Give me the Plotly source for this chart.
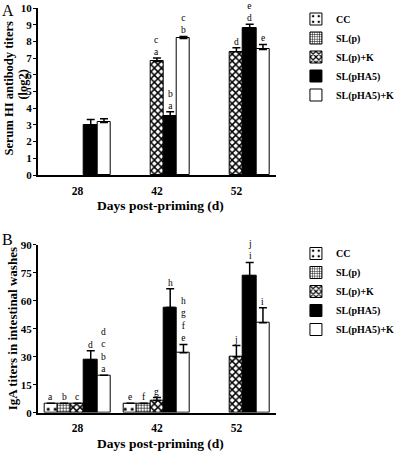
import plotly.graph_objects as go

# ---------------- data ----------------
days = ["28", "42", "52"]
series = ["CC", "SL(p)", "SL(p)+K", "SL(pHA5)", "SL(pHA5)+K"]

# Panel A: Serum HI antibody titers (log2)
A_CC = [None, None, None]
A_SLp = [None, None, None]
A_SLpK = [None, 6.8, 7.38]
A_pHA5 = [3.0, 3.55, 8.82]
A_pHA5K = [3.15, 8.18, 7.52]
A_CC_err = [None, None, None]
A_SLp_err = [None, None, None]
A_SLpK_err = [None, 0.2, 0.24]
A_pHA5_err = [0.32, 0.24, 0.2]
A_pHA5K_err = [0.22, 0.12, 0.3]
A_CC_let = ["", "", ""]
A_SLp_let = ["", "", ""]
A_SLpK_let = ["", "ca", "d"]
A_pHA5_let = ["", "ba", "ed"]
A_pHA5K_let = ["", "cb", "e"]

# Panel B: IgA titers in intestinal washes
B_CC = [5, 5, None]
B_SLp = [5, 5, None]
B_SLpK = [5, 6.5, 30]
B_pHA5 = [28.2, 56.4, 73.2]
B_pHA5K = [20, 32.1, 48.2]
B_CC_err = [None, None, None]
B_SLp_err = [None, None, None]
B_SLpK_err = [None, 1.6, 6]
B_pHA5_err = [5, 10, 7.3]
B_pHA5K_err = [None, 4.5, 8]
B_CC_let = ["a", "e", ""]
B_SLp_let = ["b", "f", ""]
B_SLpK_let = ["c", "g", "j"]
B_pHA5_let = ["d", "h", "ji"]
B_pHA5K_let = ["dcba", "hgfe", "i"]

A_vals = [A_CC, A_SLp, A_SLpK, A_pHA5, A_pHA5K]
A_errs = [A_CC_err, A_SLp_err, A_SLpK_err, A_pHA5_err, A_pHA5K_err]
A_lets = [A_CC_let, A_SLp_let, A_SLpK_let, A_pHA5_let, A_pHA5K_let]
B_vals = [B_CC, B_SLp, B_SLpK, B_pHA5, B_pHA5K]
B_errs = [B_CC_err, B_SLp_err, B_SLpK_err, B_pHA5_err, B_pHA5K_err]
B_lets = [B_CC_let, B_SLp_let, B_SLpK_let, B_pHA5_let, B_pHA5K_let]

# ---------------- styles ----------------
SERIF = "Liberation Serif"
styles = [
    dict(color="white", pattern=dict(shape=".", size=7, solidity=0.15, fgcolor="black", bgcolor="white", fillmode="replace")),
    dict(color="white", pattern=dict(shape="+", size=3, solidity=0.35, fgcolor="black", bgcolor="white", fillmode="replace")),
    dict(color="white", pattern=dict(shape="x", size=5, solidity=0.5, fgcolor="black", bgcolor="white", fillmode="replace")),
    dict(color="black"),
    dict(color="white"),
]
W = 0.167  # bar width in category units
xpos = list(range(len(days)))
H = 452.0

fig = go.Figure()
annotations = []

def add_panel(vals, errs, lets, xa, ya, legend):
    for i, name in enumerate(series):
        off = (i - 2.5) * W
        fig.add_trace(go.Bar(
            x=xpos, y=vals[i], name=name, width=W, offset=off,
            marker=dict(**styles[i], line=dict(color="black", width=1)),
            error_y=dict(type="data", array=errs[i],
                         arrayminus=[0 if e is not None else None for e in errs[i]], symmetric=False,
                         color="black", thickness=1.5, width=4),
            xaxis=xa, yaxis=ya, legend=legend, showlegend=True,
        ))
        for j in range(len(days)):
            s = lets[i][j]
            if not s or vals[i][j] is None:
                continue
            top = vals[i][j] + (errs[i][j] or 0)
            annotations.append(dict(
                x=xpos[j] + (i - 2) * W, y=top, xref=xa.replace("axis", ""), yref=ya.replace("axis", ""),
                text="<br>".join(s), showarrow=False, yanchor="bottom", yshift=0, borderpad=0,
                font=dict(family=SERIF, size=9.5, color="black"),
            ))

add_panel(A_vals, A_errs, A_lets, "x", "y", "legend")
add_panel(B_vals, B_errs, B_lets, "x2", "y2", "legend2")

xd = [40 / 400, 293 / 400]
common_x = dict(
    range=[-0.5, 2.5], tickvals=xpos, ticktext=days, showline=True, linecolor="black", linewidth=1.5,
    ticks="", ticklen=0, showgrid=False, zeroline=False, automargin=False, ticklabelstandoff=4,
    tickfont=dict(family=SERIF, size=11.5, color="black", weight="bold"),
)
common_y = dict(
    showline=True, linecolor="black", linewidth=1.5, ticks="outside", ticklen=3, tickwidth=1.2,
    tickcolor="black", showgrid=False, zeroline=False, automargin=False, ticklabelstandoff=-1,
    tickfont=dict(family=SERIF, size=11, color="black", weight="bold"),
)

def title_ann(text, x, y, size, angle=0):
    return dict(x=x / 400, y=1 - y / H, xref="paper", yref="paper", xanchor="center", yanchor="middle",
                text=text, showarrow=False, textangle=angle,
                font=dict(family=SERIF, size=size, color="black"))

leg_font = dict(family=SERIF, size=10, color="black", weight="bold")

fig.update_layout(
    width=400, height=452, margin=dict(l=0, r=0, t=0, b=0),
    paper_bgcolor="white", plot_bgcolor="white",
    barmode="overlay", bargap=0,
    xaxis=dict(domain=xd, anchor="y", **common_x),
    xaxis2=dict(domain=xd, anchor="y2", **common_x),
    yaxis=dict(domain=[1 - 175 / H, 1 - 8 / H], anchor="x", range=[0, 10], dtick=1, **common_y),
    yaxis2=dict(domain=[1 - 412.7 / H, 1 - 244.7 / H], anchor="x2", range=[0, 90],
                tickvals=[0, 15, 30, 45, 60, 75, 90], **common_y),
    legend=dict(x=0.785, y=1 - 4.5 / H, xanchor="left", yanchor="top", bgcolor="rgba(0,0,0,0)",
                font=leg_font, tracegroupgap=0, itemwidth=30),
    legend2=dict(x=0.785, y=1 - 239 / H, xanchor="left", yanchor="top", bgcolor="rgba(0,0,0,0)",
                 font=leg_font, tracegroupgap=0, itemwidth=30),
    annotations=annotations + [
        title_ann("<b>Days post-priming (d)</b>", 170, 205, 13.5),
        title_ann("<b>Days post-priming (d)</b>", 170, 443, 13.5),
        title_ann("<b>Serum HI antibody titers</b>", 10, 88, 12.5, -90),
        title_ann("<b>(log2)</b>", 24, 84, 12.5, -90),
        title_ann("<b>IgA titers in intestinal washes</b>", 13, 329, 13, -90),
        dict(x=0, y=1, xref="paper", yref="paper", xanchor="left", yanchor="top", text="A", showarrow=False,
             font=dict(family=SERIF, size=16, color="black")),
        dict(x=0, y=1 - 229 / H, xref="paper", yref="paper", xanchor="left", yanchor="top", text="B", showarrow=False,
             font=dict(family=SERIF, size=16, color="black")),
    ],
)

fig.write_html("out.html", config={"displayModeBar": False},
               post_script="document.body.style.margin='0';document.body.style.padding='0';")
